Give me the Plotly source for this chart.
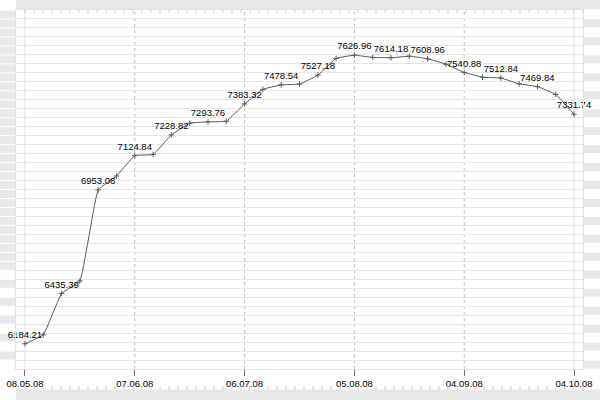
import plotly.graph_objects as go

# ---- data ----
point_index = list(range(31))
values = [6184.21, 6229, 6435.39, 6498, 6953.08, 7023, 7124.84, 7131, 7228.82, 7287,
          7293.76, 7297, 7383.32, 7456, 7478.54, 7483, 7527.18, 7611, 7626.96, 7616,
          7614.18, 7622, 7608.96, 7582, 7540.88, 7517, 7512.84, 7484, 7469.84, 7431,
          7331.74]
labeled_every = 2
tick_index = [0, 6, 12, 18, 24, 30]
tick_labels = ["08.05.08", "07.06.08", "06.07.08", "05.08.08", "04.09.08", "04.10.08"]

# ---- layout geometry (pixels) ----
W, H = 600, 400
L, R, T, B = 16, 583, 10, 369
PW, PH = R - L, B - T
Y_RANGE = [6058, 7853]
ROWS = 40


def px(x):
    return (x - L) / PW


def py(y):
    return (B - y) / PH


labels = [f"{v:.2f}" if i % labeled_every == 0 else "" for i, v in enumerate(values)]
FONT = "Liberation Sans, Arial, sans-serif"

fig = go.Figure()
fig.add_trace(go.Scatter(
    x=point_index, y=values, mode="lines+markers+text",
    text=labels, textposition="top center",
    textfont=dict(family=FONT, size=9.5, color="#000"),
    line=dict(color="#5a5a5a", width=1, shape="spline", smoothing=0.3),
    marker=dict(symbol="cross-thin", size=4, line=dict(color="#5a5a5a", width=1)),
    cliponaxis=False, hoverinfo="skip", showlegend=False,
))

shapes = []
gray = "#e8e8e8"
# top and bottom bands
shapes.append(dict(type="rect", xref="paper", yref="paper", x0=px(L), x1=px(W),
                   y0=py(0), y1=py(9.5), fillcolor=gray, line_width=0, layer="below"))
shapes.append(dict(type="rect", xref="paper", yref="paper", x0=px(L), x1=px(W),
                   y0=py(389.5), y1=py(H), fillcolor=gray, line_width=0, layer="below"))
# side stripes
row_h = PH / ROWS
for k in range(ROWS):
    y_bot = B - row_h * k - 0.5
    y_top = B - row_h * (k + 1) + 0.5
    if k >= 12 or k % 2 == 1:
        shapes.append(dict(type="rect", xref="paper", yref="paper", x0=px(0), x1=px(L),
                           y0=py(y_bot), y1=py(y_top), fillcolor=gray, line_width=0, layer="below"))
    if k % 2 == 0:
        shapes.append(dict(type="rect", xref="paper", yref="paper", x0=px(R + 0.5), x1=px(W),
                           y0=py(y_bot), y1=py(y_top), fillcolor=gray, line_width=0, layer="below"))
# ruler ticks
top_path, bot_path = "", ""
xk = L + 9
while xk <= R:
    top_path += f"M{px(xk)},{py(9.5)}L{px(xk)},{py(13)}"
    bot_path += f"M{px(xk)},{py(386)}L{px(xk)},{py(389.5)}"
    xk += 9
shapes.append(dict(type="path", xref="paper", yref="paper", path=top_path,
                   line=dict(color="#cfcfcf", width=1)))
shapes.append(dict(type="path", xref="paper", yref="paper", path=bot_path,
                   line=dict(color="#cfcfcf", width=1)))
# vertical grid lines at labelled ticks
for i, t in enumerate(tick_index):
    edge = i == 0 or i == len(tick_index) - 1
    shapes.append(dict(type="line", xref="x", yref="paper", x0=t, x1=t, y0=0, y1=1,
                       line=dict(color="#e2e2e2" if edge else "#bdbdbd", width=1,
                                 dash="solid" if edge else "3px,3px"),
                       layer="below"))

fig.update_layout(
    width=W, height=H,
    margin=dict(l=L, r=W - R, t=T, b=H - B, pad=0, autoexpand=False),
    paper_bgcolor="white", plot_bgcolor="white",
    shapes=shapes,
    xaxis=dict(range=[-0.49, 30.49], tickmode="array", tickvals=tick_index, ticktext=tick_labels,
               ticks="outside", ticklen=6, tickcolor="#707070", tickwidth=1, automargin=False,
               showgrid=False, zeroline=False, showline=True, linecolor="#e2e2e2", mirror=True,
               tickfont=dict(family=FONT, size=9.5, color="#000")),
    yaxis=dict(range=Y_RANGE, tick0=Y_RANGE[0], dtick=(Y_RANGE[1] - Y_RANGE[0]) / ROWS,
               showticklabels=False, showgrid=True, gridcolor="#e6e6e6", gridwidth=1,
               zeroline=False, showline=True, linecolor="#e2e2e2", mirror=True, ticks="",
               automargin=False),
)

fig.write_html("out.html", config={"displayModeBar": False},
               post_script="document.body.style.margin='0';")
